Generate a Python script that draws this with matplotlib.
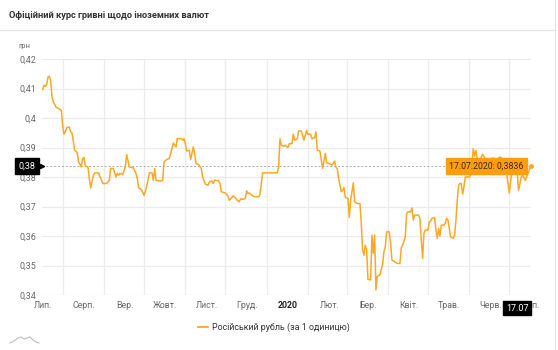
import matplotlib
matplotlib.use("Agg")
import matplotlib.pyplot as plt
import matplotlib.dates as mdates
import matplotlib.transforms as mtransforms
from matplotlib.lines import Line2D
import numpy as np
import pandas as pd

plt.rcParams["font.family"] = ["Roboto", "DejaVu Sans"]

TITLE = "Офіційний курс гривні щодо іноземних валют"
UNIT = "грн"
SERIES_NAME = "Російський рубль (за 1 одиницю)"
START = pd.Timestamp("2019-07-17")

# days since START and NBU rate (UAH per 1 RUB)
days = [
    0, 1, 2, 3, 4, 5, 6, 7, 8, 10, 12, 14, 15, 16, 17, 18, 20, 21, 22, 23,
    24, 26, 27, 28, 29, 30, 31, 32, 34, 35, 36, 38, 39, 42, 43, 44, 45, 48,
    49, 50, 51, 53, 55, 56, 57, 58, 60, 62, 63, 65, 68, 70, 71, 72, 74, 76,
    77, 79, 80, 82, 83, 84, 85, 88, 90, 91, 93, 95, 97, 98, 100, 101, 104,
    105, 106, 107, 108, 110, 111, 113, 114, 115, 117, 119, 120, 122, 124,
    125, 127, 128, 129, 132, 133, 134, 137, 139, 140, 142, 143, 145, 146,
    147, 149, 150, 152, 153, 154, 155, 157, 159, 162, 163, 165, 167, 176,
    177, 178, 179, 181, 182, 184, 185, 187, 188, 189, 191, 192, 194, 195,
    196, 197, 198, 199, 201, 202, 204, 205, 206, 208, 209, 210, 212, 213,
    215, 217, 219, 220, 221, 222, 224, 225, 226, 227, 229, 230, 231, 233,
    234, 236, 238, 239, 240, 241, 242, 243, 244, 246, 247, 248, 249, 250,
    251, 253, 255, 256, 257, 258, 260, 261, 262, 264, 266, 268, 269, 270,
    272, 273, 274, 276, 277, 278, 279, 282, 283, 284, 285, 286, 287, 289,
    290, 291, 292, 294, 295, 296, 297, 298, 299, 301, 302, 303, 304, 305,
    306, 308, 309, 310, 311, 312, 313, 314, 315, 316, 317, 320, 321, 322,
    323, 324, 325, 326, 328, 330, 332, 335, 338, 340, 343, 345, 348, 350,
    352, 354, 356, 357, 359, 360, 362, 363, 365, 366,
]
rates = [
    0.4096, 0.4111, 0.4107, 0.4114, 0.4139, 0.4141, 0.4128, 0.4071, 0.4054,
    0.4037, 0.4032, 0.4026, 0.3975, 0.3945, 0.3953, 0.3967, 0.3970, 0.3953,
    0.3949, 0.3919, 0.3891, 0.3882, 0.3851, 0.3843, 0.3834, 0.3863, 0.3866,
    0.3837, 0.3834, 0.3795, 0.3763, 0.3806, 0.3814, 0.3814, 0.3800, 0.3792,
    0.3778, 0.3778, 0.3783, 0.3789, 0.3829, 0.3829, 0.3800, 0.3812, 0.3806,
    0.3812, 0.3808, 0.3834, 0.3876, 0.3834, 0.3831, 0.3812, 0.3795, 0.3763,
    0.3758, 0.3738, 0.3750, 0.3789, 0.3814, 0.3814, 0.3789, 0.3829, 0.3789,
    0.3786, 0.3789, 0.3851, 0.3859, 0.3863, 0.3896, 0.3915, 0.3902, 0.3930,
    0.3930, 0.3925, 0.3930, 0.3913, 0.3888, 0.3891, 0.3859, 0.3902, 0.3880,
    0.3846, 0.3842, 0.3829, 0.3800, 0.3776, 0.3772, 0.3783, 0.3787, 0.3778,
    0.3789, 0.3787, 0.3778, 0.3750, 0.3746, 0.3735, 0.3721, 0.3731, 0.3736,
    0.3727, 0.3721, 0.3716, 0.3727, 0.3724, 0.3727, 0.3753, 0.3744, 0.3746,
    0.3738, 0.3733, 0.3733, 0.3741, 0.3814, 0.3814, 0.3814, 0.3834, 0.3930,
    0.3908, 0.3904, 0.3908, 0.3900, 0.3913, 0.3913, 0.3945, 0.3925, 0.3930,
    0.3956, 0.3956, 0.3941, 0.3925, 0.3941, 0.3958, 0.3945, 0.3945, 0.3930,
    0.3934, 0.3953, 0.3891, 0.3888, 0.3857, 0.3829, 0.3880, 0.3848, 0.3846,
    0.3840, 0.3854, 0.3832, 0.3829, 0.3795, 0.3750, 0.3755, 0.3764, 0.3731,
    0.3727, 0.3663, 0.3721, 0.3780, 0.3716, 0.3710, 0.3710, 0.3643, 0.3552,
    0.3535, 0.3569, 0.3552, 0.3453, 0.3451, 0.3603, 0.3541, 0.3603, 0.3417,
    0.3464, 0.3468, 0.3505, 0.3547, 0.3563, 0.3614, 0.3614, 0.3575, 0.3518,
    0.3513, 0.3507, 0.3507, 0.3561, 0.3569, 0.3597, 0.3676, 0.3682, 0.3682,
    0.3695, 0.3654, 0.3671, 0.3671, 0.3660, 0.3586, 0.3524, 0.3609, 0.3620,
    0.3620, 0.3648, 0.3651, 0.3660, 0.3663, 0.3620, 0.3592, 0.3626, 0.3600,
    0.3637, 0.3637, 0.3643, 0.3660, 0.3654, 0.3626, 0.3597, 0.3592, 0.3603,
    0.3654, 0.3721, 0.3772, 0.3778, 0.3778, 0.3742, 0.3767, 0.3800, 0.3800,
    0.3806, 0.3846, 0.3896, 0.3870, 0.3890, 0.3860, 0.3858, 0.3877, 0.3862,
    0.3858, 0.3865, 0.3855, 0.3868, 0.3862, 0.3815, 0.3746, 0.3823, 0.3815,
    0.3812, 0.3755, 0.3800, 0.3806, 0.3789, 0.3800, 0.3823, 0.3836,
]

month_labels = ["Лип.", "Серп.", "Вер.", "Жовт.", "Лист.", "Груд.", "2020",
                "Лют.", "Бер.", "Квіт.", "Трав.", "Черв.", "Лип."]
y_ticks = [0.34, 0.35, 0.36, 0.37, 0.38, 0.39, 0.40, 0.41, 0.42]

LINE = "#FFA726"
GRID = "#ebebeb"
LABEL = "#666666"

dates = START + pd.to_timedelta(days, unit="D")
xnum = mdates.date2num(dates)
last_x, last_rate = xnum[-1], rates[-1]
last_date = dates[-1]


def comma(v, nd):
    return f"{v:.{nd}f}".replace(".", ",")


def tick_fmt(v):
    s = f"{v:.2f}"
    if s.endswith("0"):
        s = s[:-1]
    return s.replace(".", ",")


fig = plt.figure(figsize=(5.58, 3.5), dpi=100)
W, H = 558, 350


def fx(x):
    return np.asarray(x) / W


def fy(y):
    return 1 - np.asarray(y) / H


# card chrome: header separator and right border
fig.add_artist(Line2D([0, fx(555)], [fy(30), fy(30)], color="#e3e3e3", lw=0.9))
fig.add_artist(Line2D([fx(555), fx(555)], [0, 1], color="#e3e3e3", lw=0.9))
fig.text(fx(9), fy(15), TITLE, fontsize=6.7, fontweight="semibold",
         color="#333333", va="center", ha="left")

ax = fig.add_axes([fx(42), fy(295), fx(531) - fx(42), (295 - 59) / H])
ax.plot(xnum, rates, color=LINE, lw=1.1, zorder=3)

ax.set_ylim(0.34, 0.42)
ax.set_xlim(xnum[0] - 0.5, last_x + 0.3)
ax.set_yticks(y_ticks)
ax.set_yticklabels([tick_fmt(v) for v in y_ticks])
ax.tick_params(axis="y", length=0, pad=4, labelsize=6.4, labelcolor=LABEL)
ax.grid(axis="y", color=GRID, lw=0.9)

# month boundaries as vertical grid lines
month_starts = mdates.date2num(pd.date_range("2019-08-01", "2020-07-01", freq="MS"))
ax.set_xticks(month_starts)
ax.set_xticklabels([])
ax.tick_params(axis="x", length=0)
ax.grid(axis="x", color=GRID, lw=0.9)
for s in ax.spines.values():
    s.set_visible(False)

# month names sit in the middle of each month
mids = mdates.date2num(pd.date_range("2019-07-01", "2020-07-01", freq="MS")
                       + pd.Timedelta(days=16))
tx = mtransforms.blended_transform_factory(ax.transData, ax.transAxes)
for d, lab in zip(mids, month_labels):
    bold = lab == "2020"
    ax.text(d, -0.045, lab, transform=tx, ha="center", va="center",
            fontsize=6.3, color="#222222" if bold else LABEL,
            fontweight="bold" if bold else "normal", clip_on=False, zorder=1)

fig.text(fx(24), fy(46), UNIT, fontsize=5.5, color=LABEL, ha="center", va="center")

# crosshair at the last observation
ax.axhline(last_rate, color="#aaaaaa", lw=0.7, ls=(0, (2, 2)), zorder=2)
ax.axvline(last_x, color="#cccccc", lw=0.7, ls=(0, (1.5, 1.5)), zorder=2)

ty = mtransforms.blended_transform_factory(ax.transAxes, ax.transData)
ax.annotate(comma(round(last_rate, 2), 2), xy=(0, last_rate), xycoords=ty,
            xytext=(-4.5, 0), textcoords="offset points", ha="right", va="center",
            fontsize=6.5, color="white",
            bbox=dict(boxstyle="square,pad=0.4", fc="black", ec="black"),
            annotation_clip=False, zorder=6)
ax.plot([0], [last_rate], marker=">", ms=3, color="black", transform=ty,
        clip_on=False, zorder=6)

ax.annotate(last_date.strftime("%d.%m"), xy=(last_x, 0), xycoords=tx,
            xytext=(-1.5, -9.5), textcoords="offset points", ha="right", va="center",
            fontsize=6.5, color="white",
            bbox=dict(boxstyle="square,pad=0.3", fc="black", ec="black"),
            annotation_clip=False, zorder=6)

# tooltip for the last point
ax.annotate(f"{last_date.strftime('%d.%m.%Y')}: {comma(last_rate, 4)}",
            xy=(last_x, last_rate), xytext=(-5, 0), textcoords="offset points",
            ha="right", va="center", fontsize=6.3, color="#3b2a14",
            bbox=dict(boxstyle="square,pad=0.4", fc="#FF9E0D", ec="#FF9E0D"),
            annotation_clip=False, zorder=7)
ax.plot([last_x], [last_rate], marker="o", ms=2.5, color=LINE, zorder=7,
        clip_on=False)

# legend
fig.add_artist(Line2D([fx(198), fx(208)], [fy(327), fy(327)], color=LINE, lw=1.3))
fig.text(fx(212), fy(327), SERIES_NAME, fontsize=6.4, color="#333333",
         ha="left", va="center")

# small navigator glyph in the corner
nav_x = [10, 14, 18, 21, 24, 27, 30, 33, 36, 39]
nav_y = [343, 341, 338, 337, 339, 338, 337, 340, 342, 343]
fig.add_artist(Line2D(fx(nav_x), fy(nav_y), color="#bdbdbd", lw=0.8))

fig.savefig("out.png", dpi=100)
